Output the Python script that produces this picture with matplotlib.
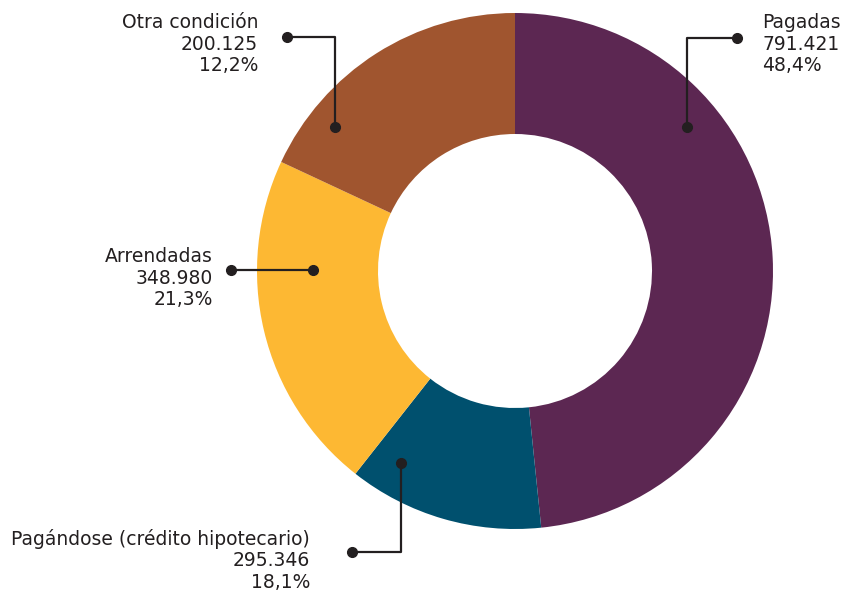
import matplotlib.pyplot as plt

# slices in drawing order (clockwise from 12 o'clock), as in the source picture
slice_values = [791421, 200125, 348980, 295346]
slice_colors = ['#5C2752', '#00506E', '#FDB833', '#A0552F']

# labels as printed on the chart
label_names = ['Pagadas', 'Otra condición', 'Arrendadas', 'Pagándose (crédito hipotecario)']
label_values = ['791.421', '200.125', '348.980', '295.346']
label_pcts = ['48,4%', '12,2%', '21,3%', '18,1%']

W, H = 842, 591
TXT = '#231F20'


def py(y):
    # pixel row (from top) -> data y
    return H - y


def main():
    fig = plt.figure(figsize=(W / 100, H / 100), dpi=100)
    ax = fig.add_axes([0, 0, 1, 1])

    cx, cy, r = 515, py(271), 258
    ax.pie(slice_values, colors=slice_colors, startangle=90, counterclock=False,
           center=(cx, cy), radius=r, frame=True,
           wedgeprops=dict(width=r - 137, linewidth=0))
    ax.set_xlim(0, W)
    ax.set_ylim(0, H)
    ax.set_aspect('equal')
    ax.axis('off')

    # leader lines: list of pixel points, first and last get a dot
    leaders = [
        [(737, 38), (687, 38), (687, 127)],
        [(287, 37), (335, 37), (335, 127)],
        [(231, 270), (313, 270)],
        [(401, 463), (401, 552), (352, 552)],
    ]
    # text anchor x, first baseline y, alignment
    text_pos = [(762, 28, 'left'), (258, 28, 'right'), (213, 262, 'right'), (310, 545, 'right')]

    for pts, (tx, ty, ha), name, val, pct in zip(leaders, text_pos, label_names, label_values, label_pcts):
        xs = [p[0] for p in pts]
        ys = [py(p[1]) for p in pts]
        ax.plot(xs, ys, color=TXT, lw=1.6, solid_capstyle='butt', zorder=3)
        ax.plot([xs[0], xs[-1]], [ys[0], ys[-1]], 'o', color=TXT, ms=7, zorder=4)
        for k, s in enumerate([name, val, pct]):
            ax.text(tx, py(ty + k * 21.5), s, ha=ha, va='baseline', fontsize=13.5,
                    color=TXT, family='DejaVu Sans')

    fig.savefig('out.png', dpi=100)


if __name__ == '__main__':
    main()
